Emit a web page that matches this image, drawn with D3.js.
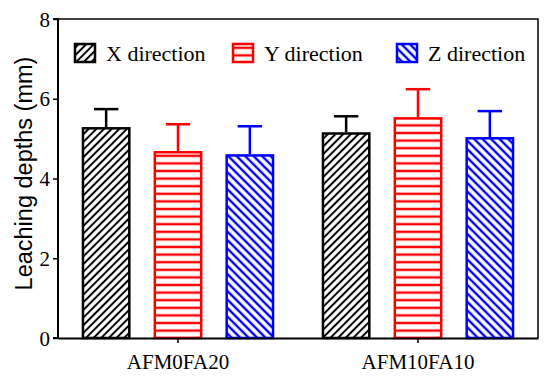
<!DOCTYPE html>
<html>
<head>
<meta charset="UTF-8">
<script src="https://d3js.org/d3.v7.min.js"></script>
<style>
  body { margin: 0; background: #fff; }
  svg { display: block; }
</style>
</head>
<body>
<svg id="chart"></svg>
<script>
// data
let groups = ["AFM0FA20", "AFM10FA10"];
let directions = ["X direction", "Y direction", "Z direction"];
let meanX = [5.29, 5.16];
let meanY = [4.69, 5.54];
let meanZ = [4.61, 5.04];
let errX = [0.45, 0.40];
let errY = [0.67, 0.70];
let errZ = [0.70, 0.65];
let yTicks = [0, 2, 4, 6, 8];

let width = 550, height = 378;
let margin = {top: 19, right: 12, bottom: 40, left: 58};

let svg = d3.select("#chart")
    .attr("width", width)
    .attr("height", height);

let colors = ["#000000", "#ff0000", "#0000ff"];

// hatch patterns
let defs = svg.append("defs");

defs.append("pattern")
    .attr("id", "hatchX")
    .attr("patternUnits", "userSpaceOnUse")
    .attr("width", 5.4).attr("height", 5.4)
    .attr("patternTransform", "rotate(45)")
    .append("line")
    .attr("x1", 2.7).attr("y1", 0).attr("x2", 2.7).attr("y2", 5.4)
    .attr("stroke", colors[0]).attr("stroke-width", 2);

defs.append("pattern")
    .attr("id", "hatchY")
    .attr("patternUnits", "userSpaceOnUse")
    .attr("width", 8).attr("height", 7.6)
    .append("line")
    .attr("x1", 0).attr("y1", 3.8).attr("x2", 8).attr("y2", 3.8)
    .attr("stroke", colors[1]).attr("stroke-width", 2.4);

defs.append("pattern")
    .attr("id", "hatchZ")
    .attr("patternUnits", "userSpaceOnUse")
    .attr("width", 6).attr("height", 6)
    .attr("patternTransform", "rotate(-45)")
    .append("line")
    .attr("x1", 3).attr("y1", 0).attr("x2", 3).attr("y2", 6)
    .attr("stroke", colors[2]).attr("stroke-width", 2.4);

let fills = ["url(#hatchX)", "url(#hatchY)", "url(#hatchZ)"];

// build rows
let rows = [];
groups.forEach((g, i) => {
    rows.push({group: g, dir: 0, mean: meanX[i], err: errX[i]});
    rows.push({group: g, dir: 1, mean: meanY[i], err: errY[i]});
    rows.push({group: g, dir: 2, mean: meanZ[i], err: errZ[i]});
});

let x0 = d3.scaleBand()
    .domain(groups)
    .range([margin.left, width - margin.right])
    .paddingInner(0)
    .paddingOuter(0);

let x1 = d3.scaleBand()
    .domain([0, 1, 2])
    .range([0, x0.bandwidth()])
    .paddingInner(0.32)
    .paddingOuter(0.33);

let y = d3.scaleLinear()
    .domain([0, 8])
    .range([height - margin.bottom, margin.top]);

// frame top/right
let plotRight = width - margin.right;
svg.append("path")
    .attr("d", "M" + margin.left + "," + y(8) + "H" + plotRight + "V" + y(0))
    .attr("fill", "none")
    .attr("stroke", "#000")
    .attr("stroke-width", 1.5);

// bars
let bars = svg.append("g").selectAll("g")
    .data(rows)
    .enter()
    .append("g");

// error bars (upper only)
bars.append("line")
    .attr("x1", d => x0(d.group) + x1(d.dir) + x1.bandwidth() / 2)
    .attr("x2", d => x0(d.group) + x1(d.dir) + x1.bandwidth() / 2)
    .attr("y1", d => y(d.mean))
    .attr("y2", d => y(d.mean + d.err))
    .attr("stroke", d => colors[d.dir])
    .attr("stroke-width", 2.5);

bars.append("line")
    .attr("x1", d => x0(d.group) + x1(d.dir) + x1.bandwidth() / 4)
    .attr("x2", d => x0(d.group) + x1(d.dir) + x1.bandwidth() * 3 / 4)
    .attr("y1", d => y(d.mean + d.err))
    .attr("y2", d => y(d.mean + d.err))
    .attr("stroke", d => colors[d.dir])
    .attr("stroke-width", 2.5);

bars.append("rect")
    .attr("x", d => x0(d.group) + x1(d.dir))
    .attr("y", d => y(d.mean))
    .attr("width", x1.bandwidth())
    .attr("height", d => y(0) - y(d.mean))
    .attr("fill", "#fff")
    .attr("stroke", "none");

bars.append("rect")
    .attr("x", d => x0(d.group) + x1(d.dir) + 1.25)
    .attr("y", d => y(d.mean) + 1.25)
    .attr("width", x1.bandwidth() - 2.5)
    .attr("height", d => y(0) - y(d.mean) - 1.25)
    .attr("fill", d => fills[d.dir])
    .attr("stroke", d => colors[d.dir])
    .attr("stroke-width", 2.5);

// axes
let yAxis = svg.append("g")
    .attr("transform", "translate(" + margin.left + ",0)")
    .call(d3.axisLeft(y).tickValues(yTicks).tickSize(5).tickPadding(3));

let xAxis = svg.append("g")
    .attr("transform", "translate(0," + y(0) + ")")
    .call(d3.axisBottom(x0).tickSize(5).tickPadding(7).tickSizeOuter(0));

[yAxis, xAxis].forEach(a => {
    a.select(".domain").attr("stroke-width", 2);
    a.selectAll(".tick line").attr("stroke-width", 1.5);
    a.selectAll("text")
        .attr("fill", "#000")
        .style("font-family", "'Liberation Serif', 'Times New Roman', serif");
});
yAxis.select(".domain").attr("d", "M-5," + y(8) + "H0V" + y(0) + "H-5");
yAxis.selectAll("text").style("font-size", "21px").attr("dy", "0.34em");
xAxis.selectAll("text").style("font-size", "21px").attr("dy", "0.9em");

// y axis title
svg.append("text")
    .attr("transform", "translate(32," + ((y(0) + y(8)) / 2 - 5) + ") rotate(-90)")
    .attr("text-anchor", "middle")
    .style("font-family", "'Liberation Sans', Arial, sans-serif")
    .style("font-size", "23.5px")
    .text("Leaching depths (mm)");

// legend
let legendX = [75, 233, 397];
let legend = svg.append("g").selectAll("g")
    .data(directions)
    .enter()
    .append("g")
    .attr("transform", (d, i) => "translate(" + legendX[i] + ",44)");

legend.append("rect")
    .attr("width", 20).attr("height", 18)
    .attr("fill", (d, i) => fills[i])
    .attr("stroke", (d, i) => colors[i])
    .attr("stroke-width", 2.5);

legend.append("text")
    .attr("x", 31)
    .attr("y", 17)
    .style("font-family", "'Liberation Serif', 'Times New Roman', serif")
    .style("font-size", "22px")
    .text(d => d);
</script>
</body>
</html>
